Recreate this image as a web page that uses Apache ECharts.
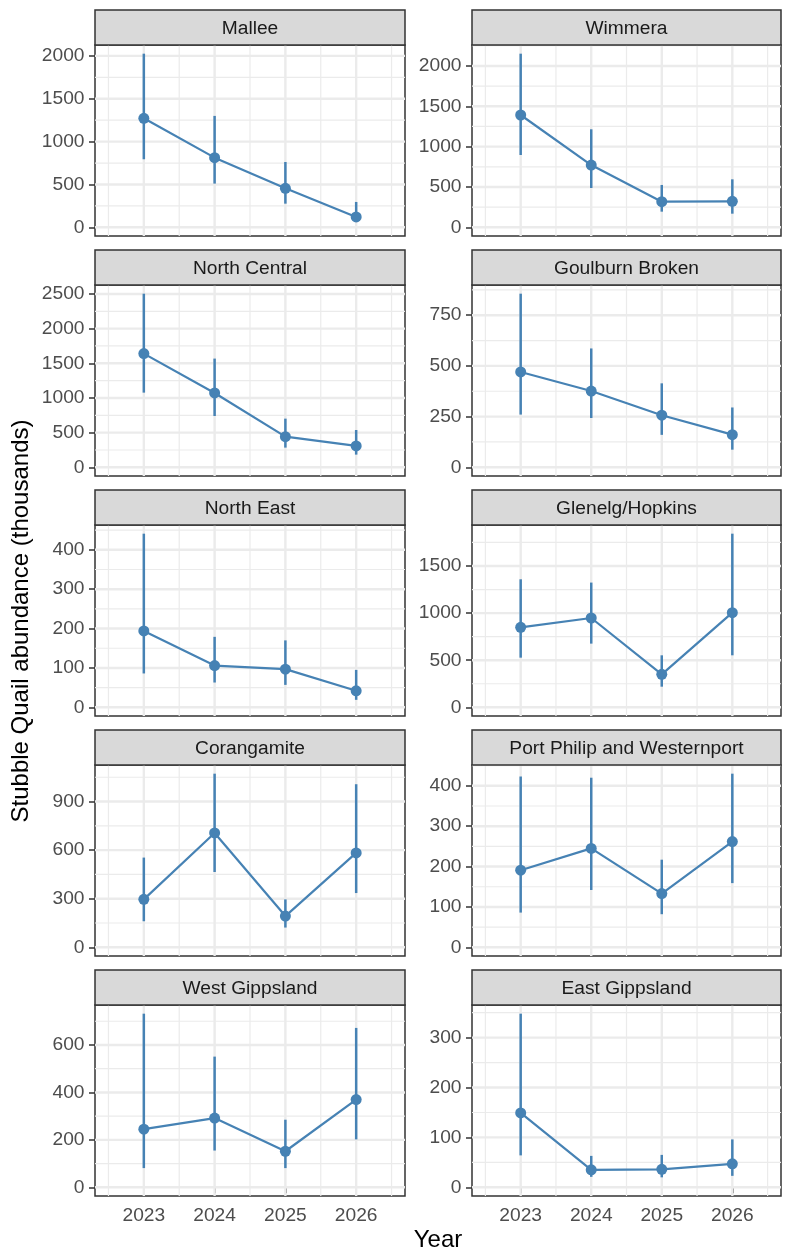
<!DOCTYPE html>
<html>
<head>
<meta charset="utf-8">
<script src="https://cdn.jsdelivr.net/npm/echarts@6/dist/echarts.min.js"></script>
<style>
html,body{margin:0;padding:0;background:#fff;}
#chart{width:787px;height:1254px;}
</style>
</head>
<body>
<div id="chart"></div>
<script>
// ---- data ----
const years = [2023, 2024, 2025, 2026];
const yearLabels = ['2023', '2024', '2025', '2026'];
const regions = ['Mallee', 'Wimmera', 'North Central', 'Goulburn Broken', 'North East',
  'Glenelg/Hopkins', 'Corangamite', 'Port Philip and Westernport', 'West Gippsland', 'East Gippsland'];
const estimate = [
  [1272, 813, 455, 121],
  [1392, 772, 318, 322],
  [1640, 1072, 442, 308],
  [470, 376, 257, 161],
  [194, 106, 97, 42],
  [849, 948, 350, 1005],
  [296, 706, 193, 583],
  [191, 245, 133, 262],
  [245, 292, 152, 370],
  [149, 35, 36, 47]
];
const lower = [
  [794, 510, 276, 70],
  [896, 487, 194, 169],
  [1077, 740, 284, 183],
  [260, 243, 160, 87],
  [86, 63, 57, 19],
  [527, 676, 219, 552],
  [161, 465, 122, 335],
  [86, 142, 82, 159],
  [81, 155, 81, 202],
  [64, 21, 20, 23]
];
const upper = [
  [2026, 1300, 762, 296],
  [2152, 1215, 525, 595],
  [2504, 1568, 702, 538],
  [856, 586, 414, 295],
  [441, 179, 170, 95],
  [1359, 1324, 552, 1843],
  [554, 1072, 296, 1007],
  [423, 420, 217, 430],
  [732, 551, 285, 672],
  [348, 63, 65, 96]
];
const yTickStep = [500, 500, 500, 250, 100, 500, 300, 100, 200, 100];
const yTitle = 'Stubble Quail abundance (thousands)';
const xTitle = 'Year';

// ---- layout ----
const FONT = '"Liberation Sans", Arial, sans-serif';
const COLOR = '#4682B4';
const TXT = 19.2;
const xMin = 2022.31, xMax = 2026.69;
const colLeft = [95, 472], colWidth = [310, 309];
const rowPitch = 240, plotTop0 = 45, plotH = 191, stripH = 35;

const grids = [], xAxes = [], yAxes = [], series = [], graphics = [];

regions.forEach((name, i) => {
  const col = i % 2, row = Math.floor(i / 2);
  const left = colLeft[col], width = colWidth[col];
  const top = plotTop0 + row * rowPitch;
  const H = Math.max(...upper[i]);
  const yMin = -0.05 * H, yMax = 1.05 * H;
  const step = yTickStep[i];
  const ticks = [];
  for (let v = 0; v <= yMax; v += step) ticks.push(v);
  const isBottom = row === 4;

  grids.push({left: left, top: top, width: width, height: plotH, show: true,
    backgroundColor: '#fff', borderColor: '#333333', borderWidth: 1.5, containLabel: false});

  xAxes.push({type: 'value', gridIndex: i, min: xMin, max: xMax,
    axisLine: {show: false}, splitLine: {show: false},
    axisTick: {show: isBottom, length: 6, customValues: years, lineStyle: {color: '#333333', width: 1.5}},
    axisLabel: {show: isBottom, customValues: years, margin: 10, color: '#4D4D4D', fontSize: TXT, fontFamily: FONT,
      formatter: v => yearLabels[years.indexOf(Math.round(v))] || ''}
  });
  yAxes.push({type: 'value', gridIndex: i, min: yMin, max: yMax,
    axisLine: {show: false}, splitLine: {show: false},
    axisTick: {show: true, length: 6, customValues: ticks, lineStyle: {color: '#333333', width: 1.5}},
    axisLabel: {show: true, customValues: ticks, margin: 10.5, color: '#4D4D4D', fontSize: TXT, fontFamily: FONT,
      formatter: v => String(Math.round(v))}
  });

  // gridlines
  const gl = [];
  years.forEach(y => gl.push([y, 0]));
  for (let k = 0; k <= years.length; k++) gl.push([years[0] - 0.5 + k, 1]);
  ticks.forEach(t => gl.push([t, 2]));
  for (let v = -step / 2; v <= yMax; v += step) if (v > yMin) gl.push([v, 3]);
  series.push({type: 'custom', xAxisIndex: i, yAxisIndex: i, z: 1, silent: true,
    encode: {x: 0, y: 1}, data: gl,
    renderItem: (params, api) => {
      const v = api.value(0), kind = api.value(1);
      let p1, p2;
      if (kind < 2) { p1 = api.coord([v, yMin]); p2 = api.coord([v, yMax]); }
      else { p1 = api.coord([xMin, v]); p2 = api.coord([xMax, v]); }
      return {type: 'line', shape: {x1: p1[0], y1: p1[1], x2: p2[0], y2: p2[1]},
        style: {stroke: '#EBEBEB', lineWidth: (kind % 2 === 0) ? 2.4 : 1.2}};
    }
  });

  // error bars
  series.push({type: 'custom', xAxisIndex: i, yAxisIndex: i, z: 2, silent: true,
    encode: {x: 0, y: [1, 2]},
    data: years.map((y, j) => [y, lower[i][j], upper[i][j]]),
    renderItem: (params, api) => {
      const p1 = api.coord([api.value(0), api.value(1)]);
      const p2 = api.coord([api.value(0), api.value(2)]);
      return {type: 'line', shape: {x1: p1[0], y1: p1[1], x2: p2[0], y2: p2[1]},
        style: {stroke: COLOR, lineWidth: 2.5}};
    }
  });

  // line + points
  series.push({type: 'line', xAxisIndex: i, yAxisIndex: i, z: 3, silent: true,
    data: years.map((y, j) => [y, estimate[i][j]]),
    symbol: 'circle', symbolSize: 11, showSymbol: true,
    itemStyle: {color: COLOR}, lineStyle: {color: COLOR, width: 2.2}
  });

  // strip
  const sTop = top - stripH;
  graphics.push({type: 'rect', shape: {x: left, y: sTop, width: width, height: stripH},
    style: {fill: '#D9D9D9', stroke: '#333333', lineWidth: 1.5}, z: 10});
  graphics.push({type: 'text', x: left + width / 2, y: sTop + stripH / 2 + 1, z: 11,
    style: {text: name, align: 'center', verticalAlign: 'middle', textAlign: 'center', textVerticalAlign: 'middle',
      fill: '#1A1A1A', fontSize: TXT, fontFamily: FONT}});
});

graphics.push({type: 'text', x: 21, y: 621, rotation: Math.PI / 2, z: 11,
  style: {text: yTitle, align: 'center', verticalAlign: 'middle', textAlign: 'center', textVerticalAlign: 'middle',
    fill: '#000000', fontSize: 24, fontFamily: FONT}});
graphics.push({type: 'text', x: 438, y: 1240, z: 11,
  style: {text: xTitle, align: 'center', verticalAlign: 'middle', textAlign: 'center', textVerticalAlign: 'middle',
    fill: '#000000', fontSize: 24, fontFamily: FONT}});

const chart = echarts.init(document.getElementById('chart'), null, {renderer: 'canvas'});
chart.setOption({
  animation: false,
  backgroundColor: '#ffffff',
  grid: grids, xAxis: xAxes, yAxis: yAxes, series: series, graphic: graphics
});
</script>
</body>
</html>
